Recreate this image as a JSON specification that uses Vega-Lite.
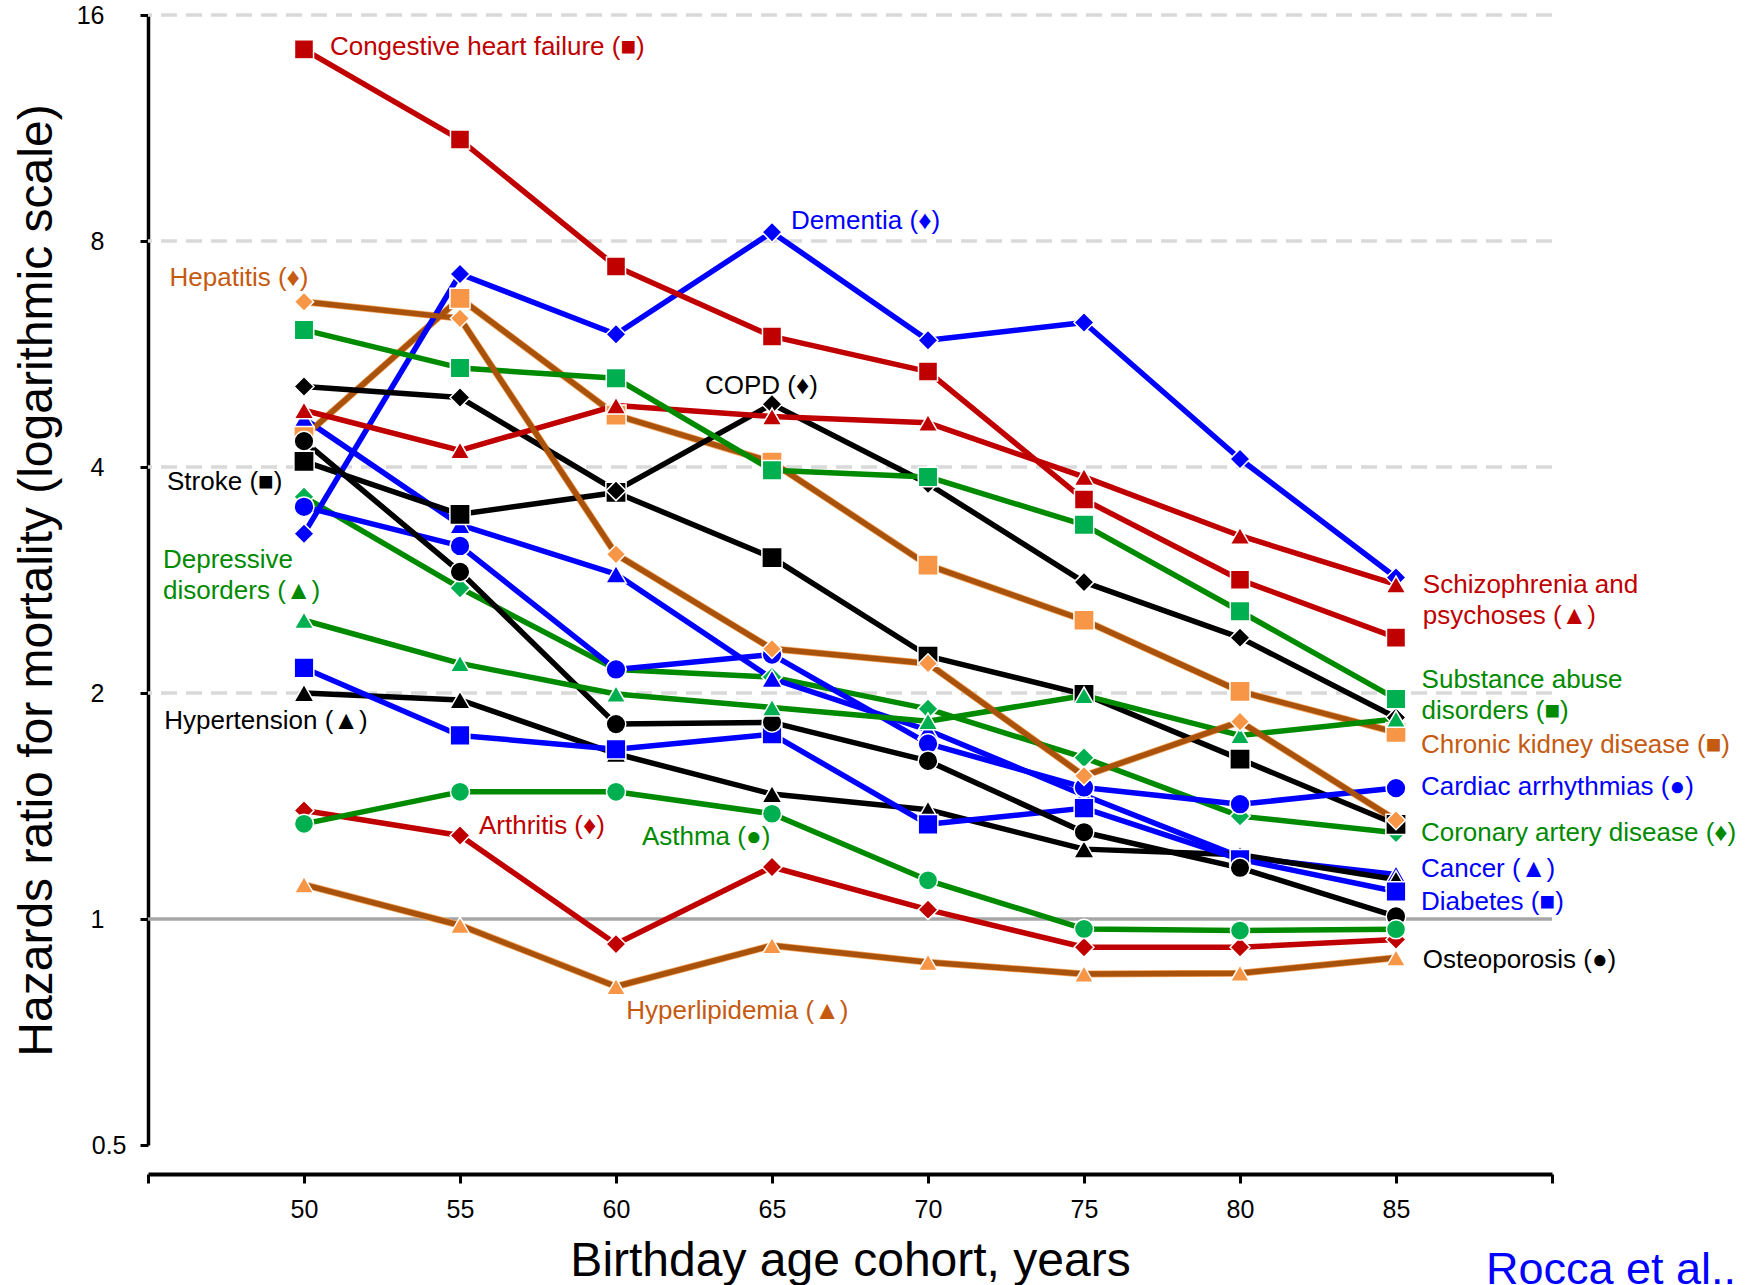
{
  "$schema": "https://vega.github.io/schema/vega-lite/v6.json",
  "width": 1404,
  "height": 1130,
  "autosize": {"type": "none"},
  "padding": {"left": 148, "top": 15, "right": 202, "bottom": 140},
  "background": "white",
  "config": {"view": {"stroke": null}, "font": "Liberation Sans"},
  "datasets": {
    "hr": [
      {"s": "CAD", "x": 50, "v": 3.65}, {"s": "CAD", "x": 55, "v": 2.76}, {"s": "CAD", "x": 60, "v": 2.15}, {"s": "CAD", "x": 65, "v": 2.10}, {"s": "CAD", "x": 70, "v": 1.905}, {"s": "CAD", "x": 75, "v": 1.64}, {"s": "CAD", "x": 80, "v": 1.371}, {"s": "CAD", "x": 85, "v": 1.303},
      {"s": "Cancer", "x": 50, "v": 4.64}, {"s": "Cancer", "x": 55, "v": 3.35}, {"s": "Cancer", "x": 60, "v": 2.88}, {"s": "Cancer", "x": 65, "v": 2.09}, {"s": "Cancer", "x": 70, "v": 1.784}, {"s": "Cancer", "x": 75, "v": 1.462}, {"s": "Cancer", "x": 80, "v": 1.21}, {"s": "Cancer", "x": 85, "v": 1.146},
      {"s": "Hypertension", "x": 50, "v": 2.0}, {"s": "Hypertension", "x": 55, "v": 1.958}, {"s": "Hypertension", "x": 60, "v": 1.66}, {"s": "Hypertension", "x": 65, "v": 1.467}, {"s": "Hypertension", "x": 70, "v": 1.398}, {"s": "Hypertension", "x": 75, "v": 1.239}, {"s": "Hypertension", "x": 80, "v": 1.218}, {"s": "Hypertension", "x": 85, "v": 1.129},
      {"s": "Stroke", "x": 50, "v": 4.07}, {"s": "Stroke", "x": 55, "v": 3.46}, {"s": "Stroke", "x": 60, "v": 3.70}, {"s": "Stroke", "x": 65, "v": 3.03}, {"s": "Stroke", "x": 70, "v": 2.24}, {"s": "Stroke", "x": 75, "v": 1.992}, {"s": "Stroke", "x": 80, "v": 1.633}, {"s": "Stroke", "x": 85, "v": 1.337},
      {"s": "CKD", "x": 50, "v": 4.39}, {"s": "CKD", "x": 55, "v": 6.71}, {"s": "CKD", "x": 60, "v": 4.69}, {"s": "CKD", "x": 65, "v": 4.06}, {"s": "CKD", "x": 70, "v": 2.96}, {"s": "CKD", "x": 75, "v": 2.50}, {"s": "CKD", "x": 80, "v": 2.01}, {"s": "CKD", "x": 85, "v": 1.772},
      {"s": "Dementia", "x": 50, "v": 3.26}, {"s": "Dementia", "x": 55, "v": 7.23}, {"s": "Dementia", "x": 60, "v": 6.01}, {"s": "Dementia", "x": 65, "v": 8.22}, {"s": "Dementia", "x": 70, "v": 5.90}, {"s": "Dementia", "x": 75, "v": 6.23}, {"s": "Dementia", "x": 80, "v": 4.10}, {"s": "Dementia", "x": 85, "v": 2.85},
      {"s": "COPD", "x": 50, "v": 5.12}, {"s": "COPD", "x": 55, "v": 4.95}, {"s": "COPD", "x": 60, "v": 3.72}, {"s": "COPD", "x": 65, "v": 4.85}, {"s": "COPD", "x": 70, "v": 3.80}, {"s": "COPD", "x": 75, "v": 2.81}, {"s": "COPD", "x": 80, "v": 2.37}, {"s": "COPD", "x": 85, "v": 1.855},
      {"s": "Arthritis", "x": 50, "v": 1.395}, {"s": "Arthritis", "x": 55, "v": 1.292}, {"s": "Arthritis", "x": 60, "v": 0.926}, {"s": "Arthritis", "x": 65, "v": 1.173}, {"s": "Arthritis", "x": 70, "v": 1.029}, {"s": "Arthritis", "x": 75, "v": 0.917}, {"s": "Arthritis", "x": 80, "v": 0.917}, {"s": "Arthritis", "x": 85, "v": 0.939},
      {"s": "Cardiac", "x": 50, "v": 3.54}, {"s": "Cardiac", "x": 55, "v": 3.14}, {"s": "Cardiac", "x": 60, "v": 2.15}, {"s": "Cardiac", "x": 65, "v": 2.25}, {"s": "Cardiac", "x": 70, "v": 1.712}, {"s": "Cardiac", "x": 75, "v": 1.497}, {"s": "Cardiac", "x": 80, "v": 1.422}, {"s": "Cardiac", "x": 85, "v": 1.494},
      {"s": "Diabetes", "x": 50, "v": 2.16}, {"s": "Diabetes", "x": 55, "v": 1.756}, {"s": "Diabetes", "x": 60, "v": 1.683}, {"s": "Diabetes", "x": 65, "v": 1.763}, {"s": "Diabetes", "x": 70, "v": 1.337}, {"s": "Diabetes", "x": 75, "v": 1.405}, {"s": "Diabetes", "x": 80, "v": 1.201}, {"s": "Diabetes", "x": 85, "v": 1.088},
      {"s": "Osteoporosis", "x": 50, "v": 4.33}, {"s": "Osteoporosis", "x": 55, "v": 2.90}, {"s": "Osteoporosis", "x": 60, "v": 1.818}, {"s": "Osteoporosis", "x": 65, "v": 1.828}, {"s": "Osteoporosis", "x": 70, "v": 1.624}, {"s": "Osteoporosis", "x": 75, "v": 1.305}, {"s": "Osteoporosis", "x": 80, "v": 1.17}, {"s": "Osteoporosis", "x": 85, "v": 1.008},
      {"s": "Schizophrenia", "x": 50, "v": 4.76}, {"s": "Schizophrenia", "x": 55, "v": 4.21}, {"s": "Schizophrenia", "x": 60, "v": 4.83}, {"s": "Schizophrenia", "x": 65, "v": 4.67}, {"s": "Schizophrenia", "x": 70, "v": 4.58}, {"s": "Schizophrenia", "x": 75, "v": 3.88}, {"s": "Schizophrenia", "x": 80, "v": 3.24}, {"s": "Schizophrenia", "x": 85, "v": 2.79},
      {"s": "Substance", "x": 50, "v": 6.09}, {"s": "Substance", "x": 55, "v": 5.42}, {"s": "Substance", "x": 60, "v": 5.25}, {"s": "Substance", "x": 65, "v": 3.96}, {"s": "Substance", "x": 70, "v": 3.88}, {"s": "Substance", "x": 75, "v": 3.35}, {"s": "Substance", "x": 80, "v": 2.57}, {"s": "Substance", "x": 85, "v": 1.964},
      {"s": "Depressive", "x": 50, "v": 2.50}, {"s": "Depressive", "x": 55, "v": 2.19}, {"s": "Depressive", "x": 60, "v": 1.994}, {"s": "Depressive", "x": 65, "v": 1.913}, {"s": "Depressive", "x": 70, "v": 1.834}, {"s": "Depressive", "x": 75, "v": 1.985}, {"s": "Depressive", "x": 80, "v": 1.756}, {"s": "Depressive", "x": 85, "v": 1.847},
      {"s": "Hepatitis", "x": 50, "v": 6.64}, {"s": "Hepatitis", "x": 55, "v": 6.31}, {"s": "Hepatitis", "x": 60, "v": 3.06}, {"s": "Hepatitis", "x": 65, "v": 2.29}, {"s": "Hepatitis", "x": 70, "v": 2.19}, {"s": "Hepatitis", "x": 75, "v": 1.551}, {"s": "Hepatitis", "x": 80, "v": 1.832}, {"s": "Hepatitis", "x": 85, "v": 1.354},
      {"s": "Asthma", "x": 50, "v": 1.339}, {"s": "Asthma", "x": 55, "v": 1.477}, {"s": "Asthma", "x": 60, "v": 1.477}, {"s": "Asthma", "x": 65, "v": 1.381}, {"s": "Asthma", "x": 70, "v": 1.126}, {"s": "Asthma", "x": 75, "v": 0.970}, {"s": "Asthma", "x": 80, "v": 0.965}, {"s": "Asthma", "x": 85, "v": 0.969},
      {"s": "CHF", "x": 50, "v": 14.40}, {"s": "CHF", "x": 55, "v": 10.92}, {"s": "CHF", "x": 60, "v": 7.40}, {"s": "CHF", "x": 65, "v": 5.97}, {"s": "CHF", "x": 70, "v": 5.36}, {"s": "CHF", "x": 75, "v": 3.62}, {"s": "CHF", "x": 80, "v": 2.83}, {"s": "CHF", "x": 85, "v": 2.37},
      {"s": "Hyperlipidemia", "x": 50, "v": 1.111}, {"s": "Hyperlipidemia", "x": 55, "v": 0.981}, {"s": "Hyperlipidemia", "x": 60, "v": 0.813}, {"s": "Hyperlipidemia", "x": 65, "v": 0.922}, {"s": "Hyperlipidemia", "x": 70, "v": 0.876}, {"s": "Hyperlipidemia", "x": 75, "v": 0.845}, {"s": "Hyperlipidemia", "x": 80, "v": 0.847}, {"s": "Hyperlipidemia", "x": 85, "v": 0.888}
    ],
    "labels": [
      {"s": "CHF", "label": "Congestive heart failure (■)", "x": 50.83, "v": 14.14},
      {"s": "Dementia", "label": "Dementia (♦)", "x": 65.61, "v": 8.30},
      {"s": "Hepatitis", "label": "Hepatitis (♦)", "x": 45.69, "v": 6.96},
      {"s": "COPD", "label": "COPD (♦)", "x": 62.85, "v": 5.01},
      {"s": "Stroke", "label": "Stroke (■)", "x": 45.61, "v": 3.73},
      {"s": "Depressive", "label": "Depressive\ndisorders (▲)", "x": 45.48, "v": 2.93},
      {"s": "Hypertension", "label": "Hypertension (▲)", "x": 45.52, "v": 1.793},
      {"s": "Arthritis", "label": "Arthritis (♦)", "x": 55.61, "v": 1.2995},
      {"s": "Asthma", "label": "Asthma (●)", "x": 60.83, "v": 1.2564},
      {"s": "Hyperlipidemia", "label": "Hyperlipidemia (▲)", "x": 60.33, "v": 0.7367},
      {"s": "Schizophrenia", "label": "Schizophrenia and\npsychoses (▲)", "x": 85.86, "v": 2.718},
      {"s": "Substance", "label": "Substance abuse\ndisorders (■)", "x": 85.82, "v": 2.0334},
      {"s": "CKD", "label": "Chronic kidney disease (■)", "x": 85.8, "v": 1.664},
      {"s": "Cardiac", "label": "Cardiac arrhythmias (●)", "x": 85.8, "v": 1.4613},
      {"s": "CAD", "label": "Coronary artery disease (♦)", "x": 85.8, "v": 1.27},
      {"s": "Cancer", "label": "Cancer (▲)", "x": 85.8, "v": 1.1375},
      {"s": "Diabetes", "label": "Diabetes (■)", "x": 85.8, "v": 1.0293},
      {"s": "Osteoporosis", "label": "Osteoporosis (●)", "x": 85.86, "v": 0.86}
    ]
  },
  "layer": [
    {
      "data": {"values": [{"v": 2}, {"v": 4}, {"v": 8}, {"v": 16}]},
      "mark": {"type": "rule", "stroke": "#D9D9D9", "strokeWidth": 3.5, "strokeDash": [16, 9]},
      "encoding": {
        "y": {
          "field": "v", "type": "quantitative",
          "scale": {"type": "log", "domain": [0.5, 16], "nice": false},
          "axis": {
            "values": [0.5, 1, 2, 4, 8, 16], "format": "~g", "grid": false,
            "domainColor": "black", "domainWidth": 3.5,
            "tickColor": "black", "tickWidth": 3, "tickSize": 8,
            "labelFontSize": 25, "labelColor": "black", "labelFont": "Liberation Sans",
            "labelPadding": {"condition": {"test": "datum.value == 0.5", "value": 14}, "value": 36},
            "title": "Hazards ratio for mortality (logarithmic scale)",
            "titleFontSize": 48, "titleFontWeight": "normal", "titleColor": "black",
            "titleFont": "Liberation Sans", "titlePadding": 15
          }
        }
      }
    },
    {
      "data": {"values": [{"v": 1}]},
      "mark": {"type": "rule", "stroke": "#A6A6A6", "strokeWidth": 3.5},
      "encoding": {"y": {"field": "v", "type": "quantitative"}}
    },
    {
      "data": {"name": "hr"},
      "transform": [{"filter": "indexof(['Hepatitis', 'CKD', 'Hyperlipidemia'], datum.s) >= 0"}],
      "mark": {"type": "line", "strokeWidth": 7, "strokeJoin": "round", "stroke": "#F5A25A"},
      "encoding": {
        "x": {"field": "x", "type": "quantitative"},
        "y": {"field": "v", "type": "quantitative"},
        "detail": {"field": "s", "type": "nominal"}
      }
    },
    {
      "data": {"name": "hr"},
      "mark": {"type": "line", "strokeWidth": 5.5, "strokeJoin": "round"},
      "encoding": {
        "x": {
          "field": "x", "type": "quantitative",
          "scale": {"domain": [45, 90], "nice": false, "zero": false},
          "axis": {
            "values": [45, 50, 55, 60, 65, 70, 75, 80, 85, 90], "format": "d",
            "labelExpr": "datum.value == 45 || datum.value == 90 ? '' : datum.label",
            "grid": false, "offset": 29,
            "domainColor": "black", "domainWidth": 4,
            "tickColor": "black", "tickWidth": 3, "tickSize": 9,
            "labelFontSize": 25, "labelColor": "black", "labelFont": "Liberation Sans", "labelPadding": 14,
            "title": "Birthday age cohort, years",
            "titleFontSize": 48, "titleFontWeight": "normal", "titleColor": "black",
            "titleFont": "Liberation Sans", "titlePadding": 15
          }
        },
        "y": {"field": "v", "type": "quantitative"},
        "stroke": {
          "field": "s", "type": "nominal", "legend": null,
          "scale": {
            "domain": ["CAD", "Cancer", "Hypertension", "Stroke", "CKD", "Dementia", "COPD", "Arthritis", "Cardiac", "Diabetes", "Osteoporosis", "Schizophrenia", "Substance", "Depressive", "Hepatitis", "Asthma", "CHF", "Hyperlipidemia"],
            "range": ["#008A00", "#0000FF", "#000000", "#000000", "#A8520C", "#0000FF", "#000000", "#C00000", "#0000FF", "#0000FF", "#000000", "#C00000", "#008A00", "#008A00", "#A8520C", "#008A00", "#C00000", "#A8520C"]
          }
        }
      }
    },
    {
      "data": {"name": "hr"},
      "mark": {"type": "point", "filled": true, "stroke": "white", "strokeWidth": 1.5, "opacity": 1},
      "encoding": {
        "x": {"field": "x", "type": "quantitative"},
        "y": {"field": "v", "type": "quantitative"},
        "fill": {
          "field": "s", "type": "nominal", "legend": null,
          "scale": {
            "domain": ["CAD", "Cancer", "Hypertension", "Stroke", "CKD", "Dementia", "COPD", "Arthritis", "Cardiac", "Diabetes", "Osteoporosis", "Schizophrenia", "Substance", "Depressive", "Hepatitis", "Asthma", "CHF", "Hyperlipidemia"],
            "range": ["#00B050", "#0000FF", "#000000", "#000000", "#F79646", "#0000FF", "#000000", "#C00000", "#0000FF", "#0000FF", "#000000", "#C00000", "#00B050", "#00B050", "#F79646", "#00B050", "#C00000", "#F79646"]
          }
        },
        "shape": {
          "field": "s", "type": "nominal", "legend": null,
          "scale": {
            "domain": ["CAD", "Cancer", "Hypertension", "Stroke", "CKD", "Dementia", "COPD", "Arthritis", "Cardiac", "Diabetes", "Osteoporosis", "Schizophrenia", "Substance", "Depressive", "Hepatitis", "Asthma", "CHF", "Hyperlipidemia"],
            "range": ["diamond", "triangle-up", "triangle-up", "square", "square", "diamond", "diamond", "diamond", "circle", "square", "circle", "triangle-up", "square", "triangle-up", "diamond", "circle", "square", "triangle-up"]
          }
        },
        "size": {
          "field": "s", "type": "nominal", "legend": null,
          "scale": {
            "domain": ["CAD", "Cancer", "Hypertension", "Stroke", "CKD", "Dementia", "COPD", "Arthritis", "Cardiac", "Diabetes", "Osteoporosis", "Schizophrenia", "Substance", "Depressive", "Hepatitis", "Asthma", "CHF", "Hyperlipidemia"],
            "range": [420, 360, 360, 270, 270, 440, 420, 420, 380, 270, 300, 380, 270, 360, 420, 290, 270, 360]
          }
        }
      }
    },
    {
      "data": {"name": "labels"},
      "mark": {"type": "text", "align": "left", "baseline": "alphabetic", "fontSize": 26, "font": "Liberation Sans", "lineBreak": "\n", "lineHeight": 31},
      "encoding": {
        "x": {"field": "x", "type": "quantitative"},
        "y": {"field": "v", "type": "quantitative"},
        "text": {"field": "label"},
        "fill": {
          "field": "s", "type": "nominal", "legend": null,
          "scale": {
            "domain": ["CAD", "Cancer", "Hypertension", "Stroke", "CKD", "Dementia", "COPD", "Arthritis", "Cardiac", "Diabetes", "Osteoporosis", "Schizophrenia", "Substance", "Depressive", "Hepatitis", "Asthma", "CHF", "Hyperlipidemia"],
            "range": ["#008A00", "#0000FF", "#000000", "#000000", "#C55A11", "#0000FF", "#000000", "#C00000", "#0000FF", "#0000FF", "#000000", "#C00000", "#008A00", "#008A00", "#C55A11", "#008A00", "#C00000", "#C55A11"]
          }
        }
      }
    },
    {
      "data": {"values": [{"label": "Rocca et al..", "x": 87.885, "v": 0.326}]},
      "mark": {"type": "text", "align": "left", "baseline": "alphabetic", "fontSize": 45, "font": "Liberation Sans", "fill": "#0000FF"},
      "encoding": {
        "x": {"field": "x", "type": "quantitative"},
        "y": {"field": "v", "type": "quantitative"},
        "text": {"field": "label"}
      }
    }
  ],
  "resolve": {"scale": {"fill": "independent"}}
}
